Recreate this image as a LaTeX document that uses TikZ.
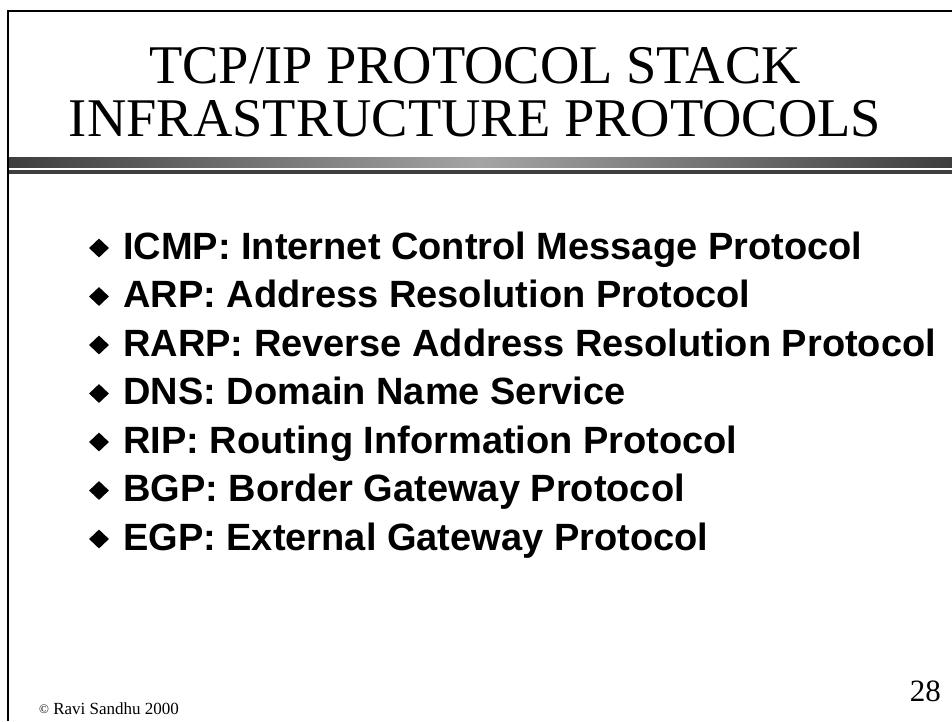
\documentclass[tikz,border=0pt]{standalone}
\usepackage{fontspec}
\setmainfont{Liberation Serif}
\newfontfamily\itemfont{Liberation Sans}
\usetikzlibrary{shapes.geometric}
\definecolor{bardark}{HTML}{3E3E3E}
\definecolor{barlight}{HTML}{A4A4A4}
\begin{document}
\begin{tikzpicture}[x=1pt, y=-1pt,
  titletext/.style={inner sep=0pt, anchor=base, font=\fontsize{54.5}{60}\selectfont},
  itemtext/.style={inner sep=0pt, anchor=base west, font=\itemfont\bfseries\fontsize{38}{42}\selectfont},
  bulletmark/.style={diamond, fill=black, inner sep=0pt, minimum width=20pt, minimum height=19pt},
  frameline/.style={line width=2pt, black}]
  \useasboundingbox (0,0) rectangle (952,721);
  % slide frame (top and left edges)
  \coordinate (fa) at (8,721);
  \coordinate (fb) at (8,11);
  \coordinate (fc) at (952,11);
  \draw[frameline] (fa) -- (fb) -- (fc);
  % title
  \node[titletext] (title1) at (475,83) {TCP/IP PROTOCOL STACK};
  \node[titletext] (title2) at (475,136) {INFRASTRUCTURE PROTOCOLS};
  % rule under the title
  \shade[left color=bardark, right color=bardark, middle color=barlight] (9,157) rectangle (952,167);
  \fill[bardark] (9,170) rectangle (952,174);
  % bullet list
  \foreach \i/\txt in {
    1/{ICMP: Internet Control Message Protocol},
    2/{ARP: Address Resolution Protocol},
    3/{RARP: Reverse Address Resolution Protocol},
    4/{DNS: Domain Name Service},
    5/{RIP: Routing Information Protocol},
    6/{BGP: Border Gateway Protocol},
    7/{EGP: External Gateway Protocol}} {
    \node[bulletmark] (b\i) at (99,{248+48.5*(\i-1)}) {};
    \node[itemtext] (t\i) at (123,{259+48.5*(\i-1)}) {\txt};
  }
  % footer
  \node[inner sep=0pt, anchor=base west, font=\fontsize{17}{19}\selectfont] (copy) at (39,714) {{\fontsize{13}{14}\selectfont\raisebox{0.5pt}{©}} Ravi Sandhu 2000};
  \node[inner sep=0pt, anchor=base east, font=\fontsize{31}{34}\selectfont] (page) at (941,701) {28};
\end{tikzpicture}
\end{document}
